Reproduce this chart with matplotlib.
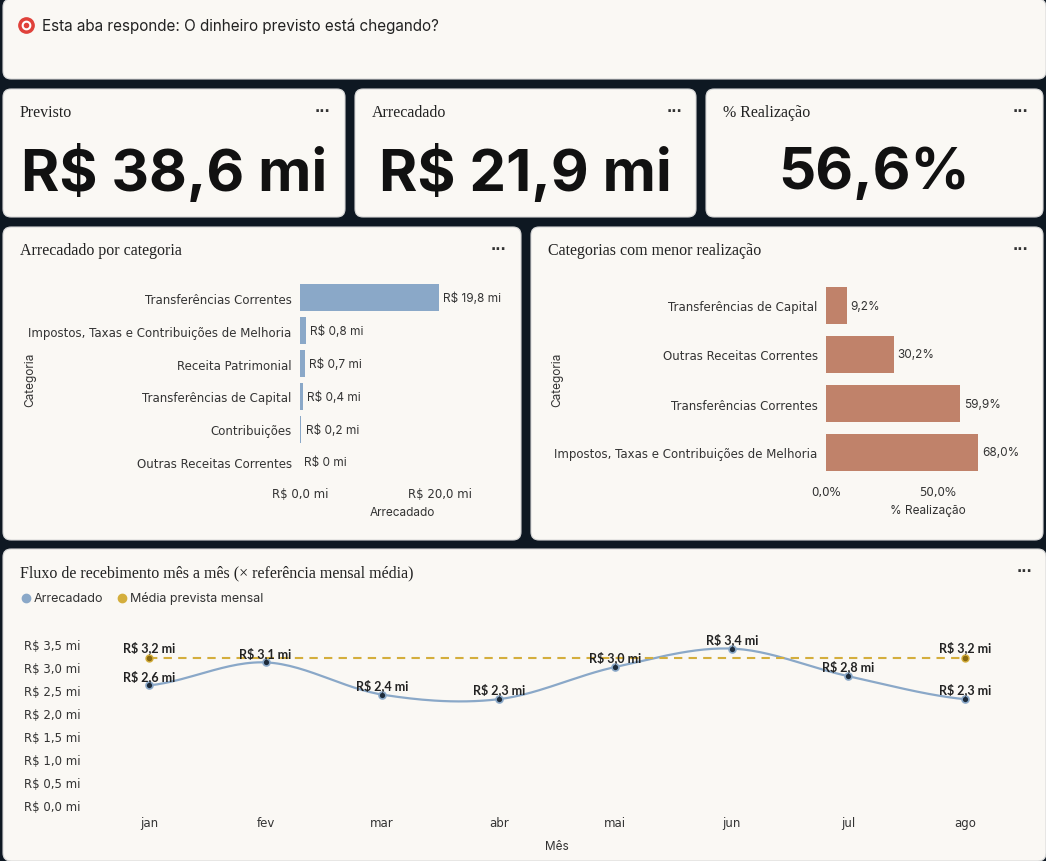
import numpy as np
import matplotlib.pyplot as plt
from matplotlib.patches import FancyBboxPatch

W, H = 1046, 862
BG = "#0e1822"
PANEL = "#faf8f4"
BLUE = "#8aa8c8"
BROWN = "#c0826a"
GOLD = "#d4ae3c"
TXT = "#333333"

# data
kpi_titles = ["Previsto", "Arrecadado", "% Realização"]
kpi_values = ["R$ 38,6 mi", "R$ 21,9 mi", "56,6%"]

cat_names = ["Transferências Correntes", "Impostos, Taxas e Contribuições de Melhoria",
             "Receita Patrimonial", "Transferências de Capital", "Contribuições",
             "Outras Receitas Correntes"]
cat_values = [19.8, 0.8, 0.7, 0.4, 0.2, 0.0]

low_names = ["Transferências de Capital", "Outras Receitas Correntes",
             "Transferências Correntes", "Impostos, Taxas e Contribuições de Melhoria"]
low_pct = [9.2, 30.2, 59.9, 68.0]

months = ["jan", "fev", "mar", "abr", "mai", "jun", "jul", "ago"]
monthly = [2.6, 3.1, 2.4, 2.3, 3.0, 3.4, 2.8, 2.3]
monthly_ref = 3.2


def br(v, d=1):
    return f"{v:.{d}f}".replace(".", ",")


fig = plt.figure(figsize=(W / 100, H / 100), dpi=100, facecolor=BG)
bg = fig.add_axes([0, 0, 1, 1])
bg.set_xlim(0, W)
bg.set_ylim(H, 0)
bg.axis("off")


def panel(x0, y0, x1, y1, title=None, dots=True):
    bg.add_patch(FancyBboxPatch((x0, y0), x1 - x0, y1 - y0,
                                boxstyle="round,pad=0,rounding_size=8",
                                fc=PANEL, ec="#d8d8d8", lw=0.8))
    if title:
        bg.text(x0 + 17, y0 + 23, title, fontsize=11.5, family="Liberation Serif",
                color="#222222", va="center")
    if dots:
        bg.text(x1 - 22, y0 + 22, "···", fontsize=10, color="#333333", ha="center",
                va="center", weight="bold")


def ax_px(x0, y0, x1, y1):
    a = fig.add_axes([x0 / W, 1 - y1 / H, (x1 - x0) / W, (y1 - y0) / H])
    a.set_facecolor("none")
    return a


# header
panel(3, 0, 1046, 80, dots=False)
bg.plot([26], [26], "o", ms=11, mfc="#e0413a", mec="#e0413a")
bg.plot([26], [26], "o", ms=6, mfc="white", mec="white")
bg.plot([26], [26], "o", ms=3, mfc="#e0413a", mec="#e0413a")
bg.text(42, 26, "Esta aba responde: O dinheiro previsto está chegando?", fontsize=11,
        family="Inter", color="#222222", va="center")

# KPI cards
cards = [(3, 345), (355, 696), (706, 1043)]
for (x0, x1), t, v in zip(cards, kpi_titles, kpi_values):
    panel(x0, 90, x1, 218, t)
    bg.text((x0 + x1) / 2, 174, v, fontsize=42, family="Inter", weight="bold",
            color="#111111", ha="center", va="center")

# left bars
panel(3, 228, 521, 541, "Arrecadado por categoria")
ax = ax_px(300, 282, 505, 480)
y = np.arange(len(cat_names))
ax.barh(y, cat_values, height=0.8, color=BLUE)
ax.set_ylim(len(cat_names) - 0.5, -0.5)
ax.set_xlim(0, 29.3)
ax.set_yticks(y, cat_names)
ax.set_xticks([0, 20], ["R$ 0,0 mi", "R$ 20,0 mi"])
for yi, v in zip(y, cat_values):
    ax.text(v + 0.6, yi, f"R$ {br(v, 1) if v > 0 else '0'} mi", va="center",
            fontsize=8.5, color=TXT, family="Inter")
ax.set_xlabel("Arrecadado", fontsize=8.5, color=TXT, family="Inter")
for s in ax.spines.values():
    s.set_visible(False)
ax.tick_params(length=0, labelsize=8.5, labelcolor=TXT, pad=6)
bg.text(30, 380, "Categoria", rotation=90, fontsize=8.5, color=TXT, va="center",
        ha="center", family="Inter")

# right bars
panel(531, 228, 1043, 541, "Categorias com menor realização")
ax = ax_px(826, 282, 1030, 478)
y = np.arange(len(low_names))
ax.barh(y, low_pct, height=0.75, color=BROWN)
ax.set_ylim(len(low_names) - 0.5, -0.5)
ax.set_xlim(0, 91)
ax.set_yticks(y, low_names)
ax.set_xticks([0, 50], ["0,0%", "50,0%"])
for yi, v in zip(y, low_pct):
    ax.text(v + 1.5, yi, br(v) + "%", va="center", fontsize=8.5, color=TXT,
            family="Inter")
ax.set_xlabel("% Realização", fontsize=8.5, color=TXT, family="Inter")
for s in ax.spines.values():
    s.set_visible(False)
ax.tick_params(length=0, labelsize=8.5, labelcolor=TXT, pad=6)
bg.text(557, 380, "Categoria", rotation=90, fontsize=8.5, color=TXT, va="center",
        ha="center", family="Inter")

# monthly line
panel(3, 550, 1046, 862, "Fluxo de recebimento mês a mês (× referência mensal média)")
bg.plot([26], [599], "o", ms=6, color=BLUE)
bg.text(34, 599, "Arrecadado", fontsize=9, color=TXT, va="center", family="Inter")
bg.plot([122], [599], "o", ms=6, color=GOLD)
bg.text(130, 599, "Média prevista mensal", fontsize=9, color=TXT, va="center",
        family="Inter")

ax = ax_px(110, 645, 1004, 806)
x = np.arange(len(months))
# smooth curve through the points (Catmull-Rom)
p = np.array(monthly)
pp = np.concatenate([[p[0]], p, [p[-1]]])
xs, ys = [], []
for i in range(len(p) - 1):
    t = np.linspace(0, 1, 30)
    p0, p1, p2, p3 = pp[i], pp[i + 1], pp[i + 2], pp[i + 3]
    yy = 0.5 * (2 * p1 + (-p0 + p2) * t + (2 * p0 - 5 * p1 + 4 * p2 - p3) * t ** 2
                + (-p0 + 3 * p1 - 3 * p2 + p3) * t ** 3)
    xs.extend(i + t)
    ys.extend(yy)
ax.plot(xs, ys, color=BLUE, lw=1.6, clip_on=False)
ax.plot(x, monthly, "o", ms=5, mfc="#1d2b3a", mec=BLUE, mew=1.2, clip_on=False)
ax.plot(x, [monthly_ref] * len(x), "--", color=GOLD, lw=1.5, dashes=(4, 3))
ax.plot([x[0], x[-1]], [monthly_ref] * 2, "o", ms=5, mfc="#8a6a10", mec=GOLD,
        clip_on=False)
for xi, v in zip(x, monthly):
    ax.text(xi, v + 0.08, f"R$ {br(v)} mi", ha="center", va="bottom", fontsize=9,
            weight="bold", family="Lato", color="#222222")
for xi in (x[0], x[-1]):
    ax.text(xi, monthly_ref + 0.1, f"R$ {br(monthly_ref)} mi", ha="center",
            va="bottom", fontsize=9, weight="bold", family="Lato", color="#222222")
ax.set_xlim(-0.335, 7.335)
ax.set_ylim(0, 3.5)
yt = np.arange(0, 3.51, 0.5)
ax.set_yticks(yt, [f"R$ {br(v)} mi" for v in yt])
ax.set_xticks(x, months)
ax.set_xlabel("Mês", fontsize=8.5, color=TXT, family="Inter", labelpad=8)
for s in ax.spines.values():
    s.set_visible(False)
ax.tick_params(length=0, labelsize=8.5, labelcolor=TXT)
ax.tick_params(axis="y", pad=21)
ax.tick_params(axis="x", pad=8)

fig.savefig("out.png", dpi=100, facecolor=BG)
